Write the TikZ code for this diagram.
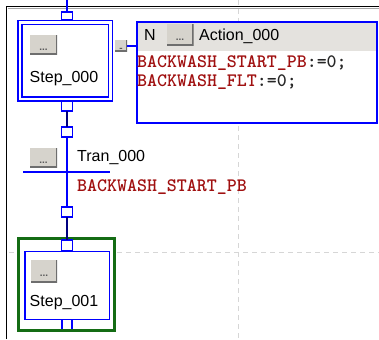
\documentclass[tikz,border=0pt]{standalone}
\usepackage{fontspec}
\setmainfont{Liberation Sans}
\usetikzlibrary{calc}
\usetikzlibrary{positioning}
\definecolor{sfc-blue}{RGB}{0, 0, 255}
\definecolor{sfc-navy}{RGB}{0, 0, 128}
\definecolor{sfc-green}{RGB}{20, 108, 20}
\definecolor{sfc-red}{RGB}{160, 16, 16}
\definecolor{btn-face}{RGB}{214, 211, 204}
\definecolor{btn-shade}{RGB}{110, 110, 110}
\definecolor{hdr-gray}{RGB}{228, 226, 222}
\definecolor{grid-gray}{RGB}{214, 214, 214}

\begin{document}
\begin{tikzpicture}[x=1pt, y=-1pt,
    wire/.style={sfc-blue, line width=1.4pt},
    link/.style={sfc-navy, line width=1.4pt},
    joint/.style={draw=sfc-blue, line width=1.4pt, fill=white, minimum width=11pt, minimum height=9pt, inner sep=0pt, outer sep=0pt},
    stepbox/.style={draw=sfc-blue, double=white, double distance=2.4pt, line width=1.6pt, inner sep=0pt, outer sep=0pt},
    activebox/.style={draw=sfc-green, fill=white, line width=2.7pt, inner sep=0pt, outer sep=0pt},
    btn/.style={fill=btn-face, inner sep=0pt, outer sep=0pt, text=black!65, font=\fontsize{10}{10}\selectfont\bfseries,
        text height=11pt, text depth=0pt,
        path picture={\draw[btn-shade, line width=3pt] (path picture bounding box.north east)
            -- (path picture bounding box.south east) -- (path picture bounding box.south west);}},
    lbl/.style={font=\fontsize{16}{18}\selectfont, inner sep=0pt},
    code/.style={font=\ttfamily\bfseries\fontsize{19}{17}\selectfont, inner sep=0pt, text=black!85,
        text height=12pt, text depth=3pt},
    gridline/.style={grid-gray, dash pattern=on 5pt off 4pt, line width=1pt}]
\useasboundingbox (0,0) rectangle (379,339);
\fill[white] (0,0) rectangle (379,339);

% editor frame and grid
\draw[gridline] (238,0) -- (238,339);
\draw[gridline] (9,252) -- (379,252);
\draw[black, line width=1.2pt] (6.8,339) -- (6.8,6.8) -- (379,6.8);
\draw[black!35, line width=1pt] (379,8.7) -- (7.5,8.7);

% Step_000
\coordinate (top) at (67,0);
\node[stepbox, minimum width=90.5pt, minimum height=76.5pt] (s0) at (65.25,60.75) {};
\node[btn, minimum width=27pt, minimum height=20pt] (s0btn) at (43.5,45) {...};
\node[lbl] (s0name) at (64,79) {Step\_000};
\node[joint, minimum height=8pt] (s0in) at (67,16) {};
\node[joint, minimum height=10pt] (s0out) at (67,106) {};
\draw[wire] (top) -- (s0in);

% action attached to Step_000
\node[btn, minimum width=12pt, minimum height=12pt] (a0min) at (121,46) {-};
\node[draw=sfc-blue, line width=1.4pt, fill=white, minimum width=240pt, minimum height=101pt,
    inner sep=0pt, outer sep=0pt] (a0) at (257,72.5) {};
\fill[hdr-gray] ($(a0.north west)+(0.7,0.7)$) rectangle ($(a0.north east)+(-0.7,29)$);
\node[lbl] (a0q) at (150,35) {N};
\node[btn, minimum width=27pt, minimum height=22pt] (a0btn) at (180,35) {...};
\node[lbl, anchor=west] (a0name) at (199,36) {Action\_000};
\node[code, anchor=base west] (a0line1) at (137,68) {\textcolor{sfc-red}{BACKWASH\_START\_PB}:=0;};
\node[code, anchor=base west] (a0line2) at (137,86.5) {\textcolor{sfc-red}{BACKWASH\_FLT}:=0;};
\draw[wire] (a0min.east) -- (a0min.east -| a0.west);

% Tran_000
\node[joint, minimum height=10pt] (t0in) at (67,132) {};
\node[joint, minimum height=10pt] (t0out) at (67,212) {};
\coordinate (t0) at (67,172);
\node[btn, minimum width=27pt, minimum height=19pt] (t0btn) at (43.5,157.5) {...};
\node[lbl, anchor=west] (t0name) at (77,158) {Tran\_000};
\node[code, anchor=base west, text=sfc-red] (t0cond) at (77,191.5) {BACKWASH\_START\_PB};
\draw[link] (s0out) -- (t0in);
\draw[wire] (t0in) -- (t0out);
\draw[wire] ($(t0)+(-44,0)$) -- ($(t0)+(43,0)$);

% Step_001 (active)
\node[activebox, minimum width=96pt, minimum height=91.6pt] (s1) at (66.7,284.5) {};
\node[draw=sfc-blue, line width=1.4pt, inner sep=0pt, outer sep=0pt,
    minimum width=84.7pt, minimum height=68pt] (s1box) at (67.35,285.3) {};
\node[btn, minimum width=26pt, minimum height=22pt] (s1btn) at (44,271) {...};
\node[lbl] (s1name) at (64,303) {Step\_001};
\node[joint, minimum height=11pt] (s1in) at (67,245.5) {};
\coordinate (s1out) at (67,324.2);
\draw[wire] ($(s1out)+(-5,-5)$) -- ($(s1out)+(-5,5)$) ($(s1out)+(5,-5)$) -- ($(s1out)+(5,5)$);
\draw[link] (t0out) -- (s1in);
\end{tikzpicture}
\end{document}
